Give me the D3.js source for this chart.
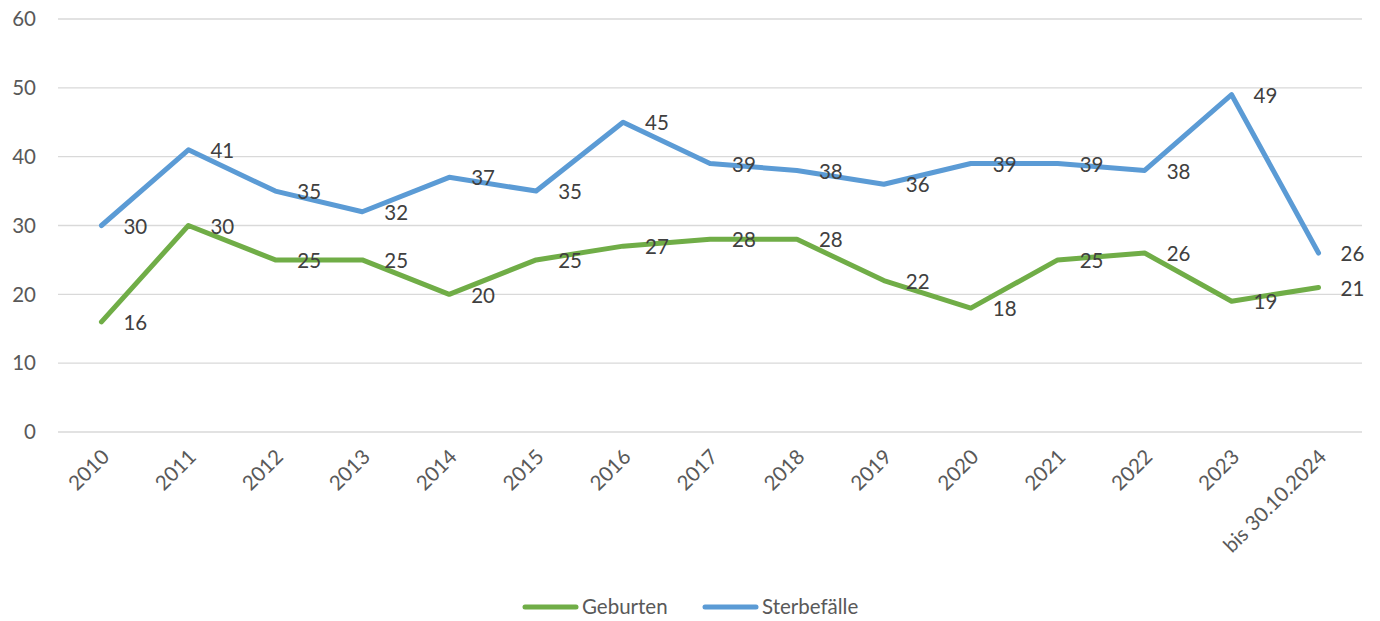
<!DOCTYPE html>
<html lang="de">
<head>
<meta charset="UTF-8">
<title>Geburten und Sterbefälle</title>
<script src="https://d3js.org/d3.v7.min.js"></script>
<style>
  body { margin: 0; background: #fff; font-family: Lato, "Noto Sans", sans-serif; }
</style>
</head>
<body>
<div id="chart"></div>
<script>
// data
const categories = ["2010", "2011", "2012", "2013", "2014", "2015", "2016", "2017",
  "2018", "2019", "2020", "2021", "2022", "2023", "bis 30.10.2024"];
const geburten = [16, 30, 25, 25, 20, 25, 27, 28, 28, 22, 18, 25, 26, 19, 21];
const sterbefaelle = [30, 41, 35, 32, 37, 35, 45, 39, 38, 36, 39, 39, 38, 49, 26];
const yTicks = [0, 10, 20, 30, 40, 50, 60];

const series = [
  { name: "Geburten", values: geburten, color: "#70ad47" },
  { name: "Sterbefälle", values: sterbefaelle, color: "#5b9bd5" }
];

const width = 1380, height = 621;
const margin = { left: 58, right: 18, top: 19, bottom: 189 };
const fontSize = 20.5;

const svg = d3.select("#chart").append("svg")
  .attr("width", width)
  .attr("height", height);

const x = d3.scaleBand()
  .domain(categories)
  .range([margin.left, width - margin.right]);

const y = d3.scaleLinear()
  .domain([0, 60])
  .range([height - margin.bottom, margin.top]);

// gridlines
svg.append("g").selectAll("line")
  .data(yTicks)
  .enter().append("line")
  .attr("x1", margin.left)
  .attr("x2", width - margin.right)
  .attr("y1", d => y(d))
  .attr("y2", d => y(d))
  .attr("stroke", "#d9d9d9")
  .attr("stroke-width", 1.3);

// y tick labels
svg.append("g").selectAll("text")
  .data(yTicks)
  .enter().append("text")
  .attr("x", 36)
  .attr("y", d => y(d))
  .attr("dy", "0.35em")
  .attr("text-anchor", "end")
  .attr("font-size", fontSize)
  .attr("fill", "#595959")
  .text(d => d);

// x tick labels, rotated
svg.append("g").selectAll("text")
  .data(categories)
  .enter().append("text")
  .attr("transform", d => `translate(${x(d) + x.bandwidth() / 2 + 4},${y(0) + 21}) rotate(-45)`)
  .attr("text-anchor", "end")
  .attr("dy", "0.35em")
  .attr("font-size", fontSize)
  .attr("fill", "#595959")
  .text(d => d);

const line = d3.line()
  .x((d, i) => x(categories[i]) + x.bandwidth() / 2)
  .y(d => y(d));

series.forEach(s => {
  svg.append("path")
    .datum(s.values)
    .attr("d", line)
    .attr("fill", "none")
    .attr("stroke", s.color)
    .attr("stroke-width", 5)
    .attr("stroke-linejoin", "round")
    .attr("stroke-linecap", "round");
});

// data labels, right of each point
series.forEach(s => {
  svg.append("g").selectAll("text")
    .data(s.values)
    .enter().append("text")
    .attr("x", (d, i) => x(categories[i]) + x.bandwidth() / 2 + 22)
    .attr("y", d => y(d) + 1)
    .attr("dy", "0.35em")
    .attr("font-size", fontSize)
    .attr("fill", "#404040")
    .text(d => d);
});

// legend
const legend = svg.append("g");
const legendX = [523, 703];
series.forEach((s, i) => {
  legend.append("line")
    .attr("x1", legendX[i] + 2)
    .attr("x2", legendX[i] + 53)
    .attr("y1", 607)
    .attr("y2", 607)
    .attr("stroke", s.color)
    .attr("stroke-width", 5)
    .attr("stroke-linecap", "round");
  legend.append("text")
    .attr("x", legendX[i] + 59)
    .attr("y", 607)
    .attr("dy", "0.35em")
    .attr("font-size", fontSize)
    .attr("fill", "#595959")
    .text(s.name);
});
</script>
</body>
</html>
